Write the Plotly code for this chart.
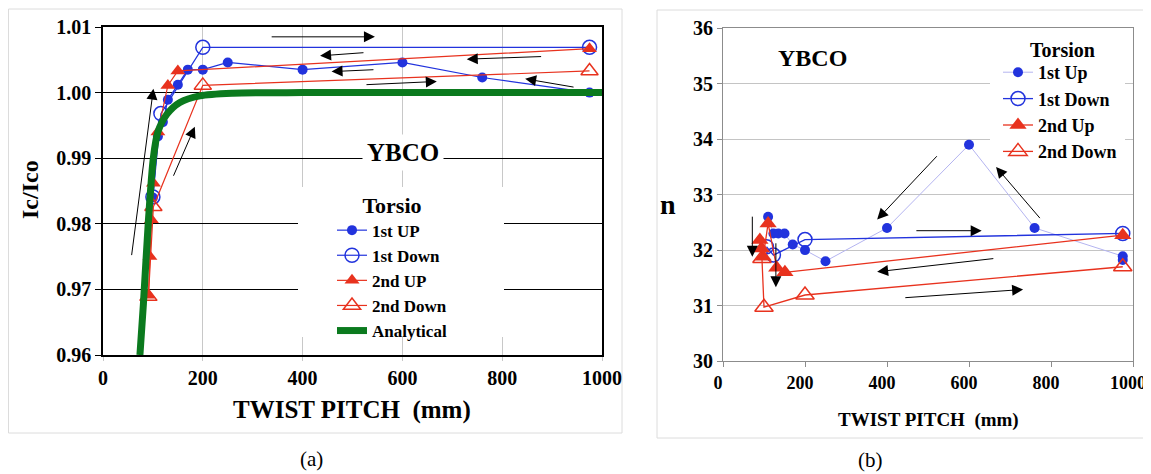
import plotly.graph_objects as go

# page body has an 8px default margin: size the figure so it ends at the window edge
OFF = 8
W, H = 1151 - OFF, 474 - OFF

# ---------------- data: panel (a) Ic/Ico ----------------
a_1up_x = [975, 760, 600, 400, 250, 200, 170, 150, 130, 120, 110, 100]
a_1up_y = [1.0000, 1.0023, 1.0046, 1.0035, 1.0046, 1.0035, 1.0035, 1.0012, 0.9989, 0.9955, 0.9933, 0.9840]
a_1dn_x = [100, 116, 200, 975]
a_1dn_y = [0.9841, 0.9968, 1.0069, 1.0069]
a_2up_x = [975, 150, 130, 110, 101, 97, 94, 91]
a_2up_y = [1.0067, 1.0033, 1.0011, 0.9940, 0.9862, 0.9806, 0.9750, 0.9691]
a_2dn_x = [91, 101, 200, 975]
a_2dn_y = [0.9689, 0.9826, 1.0011, 1.0033]
a_ana_x = [74, 81, 91, 101, 110, 128, 154, 194, 260, 400, 600, 800, 1000]
a_ana_y = [0.9600, 0.9678, 0.9805, 0.9901, 0.9940, 0.9967, 0.9985, 0.9995, 0.9999, 1.0000, 1.0000, 1.0000, 1.0000]
a_xticks = [0, 200, 400, 600, 800, 1000]
a_yticks = [0.96, 0.97, 0.98, 0.99, 1.00, 1.01]
# arrows (tail_x, tail_y, head_x, head_y)
a_arrows = [
    (335, 1.0085, 545, 1.0085),
    (525, 1.0061, 435, 1.0056),
    (881, 1.0055, 729, 1.0051),
    (545, 1.0035, 458, 1.0032),
    (525, 1.0012, 669, 1.0017),
    (946, 1.0008, 846, 1.0021),
    (57, 0.9750, 101, 1.0006),
    (140, 0.9871, 184, 0.9948),
]

# ---------------- data: panel (b) n ----------------
b_1up_x = [975, 975, 760, 600, 400, 250, 200, 170, 150, 135, 123, 110]
b_1up_y = [31.82, 31.89, 32.40, 33.90, 32.40, 31.80, 32.00, 32.10, 32.30, 32.30, 32.30, 32.60]
b_1dn_x = [106, 123, 200, 975]
b_1dn_y = [32.06, 31.91, 32.19, 32.30]
b_2up_x = [975, 151, 131, 110, 98, 94, 90]
b_2up_y = [32.27, 31.60, 31.68, 32.48, 31.88, 32.03, 32.18]
b_2dn_x = [95, 100, 200, 975]
b_2dn_y = [31.85, 30.97, 31.19, 31.70]
b_xticks = [0, 200, 400, 600, 800, 1000]
b_yticks = [30, 31, 32, 33, 34, 35, 36]
b_arrows = [
    (71.5, 32.63, 71.5, 31.88),
    (129, 32.15, 129, 31.33),
    (525, 33.72, 376, 32.55),
    (776, 32.55, 666, 33.50),
    (468, 32.35, 631, 32.35),
    (663, 31.85, 376, 31.61),
    (441, 31.14, 732, 31.29),
]

BLUE = "#2233DD"
RED = "#E8321E"
GREEN = "#0B7A1E"
LAV = "#B4B4F0"
SERIF = "Liberation Serif"


def px(x):
    return (x - OFF) / W


def py(y):
    return 1 - (y - OFF) / H


fig = go.Figure()

# panel (a)
fig.add_trace(go.Scatter(x=a_1up_x, y=a_1up_y, name="1st UP", mode="lines+markers",
                         line=dict(color=BLUE, width=1.2),
                         marker=dict(symbol="circle", size=10, color=BLUE),
                         xaxis="x", yaxis="y", legend="legend"))
fig.add_trace(go.Scatter(x=a_1dn_x, y=a_1dn_y, name="1st Down", mode="lines+markers",
                         line=dict(color=BLUE, width=1.2),
                         marker=dict(symbol="circle-open", size=14, color=BLUE, line=dict(width=1.5)),
                         xaxis="x", yaxis="y", legend="legend"))
fig.add_trace(go.Scatter(x=a_2up_x, y=a_2up_y, name="2nd UP", mode="lines+markers",
                         line=dict(color=RED, width=1.2),
                         marker=dict(symbol="triangle-up", size=13, color=RED),
                         xaxis="x", yaxis="y", legend="legend"))
fig.add_trace(go.Scatter(x=a_2dn_x, y=a_2dn_y, name="2nd Down", mode="lines+markers",
                         line=dict(color=RED, width=1.2),
                         marker=dict(symbol="triangle-up-open", size=15, color=RED, line=dict(width=1.5)),
                         xaxis="x", yaxis="y", legend="legend"))
fig.add_trace(go.Scatter(x=a_ana_x, y=a_ana_y, name="Analytical", mode="lines",
                         line=dict(color=GREEN, width=7, shape="spline", smoothing=0.8),
                         xaxis="x", yaxis="y", legend="legend"))

# panel (b)
fig.add_trace(go.Scatter(x=b_1up_x, y=b_1up_y, name="1st Up", mode="lines+markers",
                         line=dict(color=LAV, width=1),
                         marker=dict(symbol="circle", size=10, color=BLUE),
                         xaxis="x2", yaxis="y2", legend="legend2"))
fig.add_trace(go.Scatter(x=b_1dn_x, y=b_1dn_y, name="1st Down", mode="lines+markers",
                         line=dict(color=BLUE, width=1.3),
                         marker=dict(symbol="circle-open", size=14, color=BLUE, line=dict(width=1.5)),
                         xaxis="x2", yaxis="y2", legend="legend2"))
fig.add_trace(go.Scatter(x=b_2up_x, y=b_2up_y, name="2nd Up", mode="lines+markers",
                         line=dict(color=RED, width=1.3),
                         marker=dict(symbol="triangle-up", size=15, color=RED),
                         xaxis="x2", yaxis="y2", legend="legend2"))
fig.add_trace(go.Scatter(x=b_2dn_x, y=b_2dn_y, name="2nd Down", mode="lines+markers",
                         line=dict(color=RED, width=1.3),
                         marker=dict(symbol="triangle-up-open", size=16, color=RED, line=dict(width=1.5)),
                         xaxis="x2", yaxis="y2", legend="legend2"))

annotations = []
for tx, ty, hx, hy in a_arrows:
    annotations.append(dict(x=hx, y=hy, ax=tx, ay=ty, xref="x", yref="y", axref="x", ayref="y",
                            text="", showarrow=True, arrowhead=2, arrowsize=2.2, arrowwidth=1,
                            arrowcolor="black"))
for tx, ty, hx, hy in b_arrows:
    annotations.append(dict(x=hx, y=hy, ax=tx, ay=ty, xref="x2", yref="y2", axref="x2", ayref="y2",
                            text="", showarrow=True, arrowhead=2, arrowsize=2.2, arrowwidth=1,
                            arrowcolor="black"))


def txt(text, x, y, size, bold=True, angle=0, bg=None):
    d = dict(text=text, x=px(x), y=py(y), xref="paper", yref="paper", showarrow=False,
             xanchor="center", yanchor="middle", textangle=angle,
             font=dict(family=SERIF, size=size, color="black", weight="bold" if bold else "normal"))
    if bg:
        d["bgcolor"] = bg
        d["borderpad"] = 4
    return d


annotations += [
    txt("Ic/Ico", 30, 190, 24, angle=-90),
    txt("TWIST PITCH&nbsp; (mm)", 352, 410, 25),
    txt("YBCO", 403, 153, 25, bg="white"),
    txt("n", 668, 204, 28),
    txt("TWIST PITCH&nbsp; (mm)", 928, 420, 19),
    txt("YBCO", 812, 58, 24),
    txt("Torsion", 1062, 50, 20),
    txt("(a)", 311, 459, 21, bold=False),
    txt("(b)", 870, 460, 21, bold=False),
]

shapes = [
    dict(type="rect", xref="paper", yref="paper", x0=px(8.5), x1=px(622), y0=py(433), y1=py(9),
         line=dict(color="#dcdcdc", width=1), layer="below"),
    dict(type="rect", xref="paper", yref="paper", x0=px(657), x1=px(1149), y0=py(438), y1=py(10),
         line=dict(color="#dcdcdc", width=1), layer="below"),
    # white legend backgrounds covering gridlines
    dict(type="rect", xref="paper", yref="paper", x0=px(298), x1=px(504), y0=py(337), y1=py(187),
         fillcolor="white", line=dict(width=0), layer="above"),
    dict(type="rect", xref="paper", yref="paper", x0=px(990), x1=px(1125), y0=py(165), y1=py(62),
         fillcolor="white", line=dict(width=0), layer="above"),
]

tickfont = dict(family=SERIF, size=20, color="black", weight="bold")
tickfont_b = dict(family=SERIF, size=18, color="black", weight="bold")

fig.update_layout(
    width=W, height=H, autosize=False,
    margin=dict(l=0, r=0, t=0, b=0, pad=0, autoexpand=False),
    paper_bgcolor="white", plot_bgcolor="white",
    xaxis=dict(domain=[px(103), px(602)], range=[0, 1000], tickvals=a_xticks,
               showgrid=True, gridcolor="#c8c8c8", gridwidth=1, zeroline=False,
               showline=True, linecolor="black", linewidth=1.5, mirror=True, automargin=False,
               ticklabeloverflow="allow",
               ticks="outside", ticklen=4, tickcolor="#c8c8c8", tickfont=tickfont, anchor="y"),
    yaxis=dict(domain=[py(355), py(27)], range=[0.96, 1.01], tickvals=a_yticks, tickformat=".2f",
               showgrid=True, gridcolor="black", gridwidth=1, zeroline=False,
               showline=True, linecolor="black", linewidth=1.5, mirror=True, automargin=False,
               ticklabeloverflow="allow",
               ticks="outside", ticklen=6, tickcolor="black", tickfont=tickfont, anchor="x"),
    xaxis2=dict(domain=[px(723), px(1133)], range=[0, 1000], tickvals=b_xticks,
                showgrid=False, zeroline=False, automargin=False, ticklabeloverflow="allow",
                ticklabelshift=-5,
                showline=True, linecolor="#8c8c8c", linewidth=1, mirror=True,
                ticks="outside", ticklen=5, tickcolor="#8c8c8c", tickfont=tickfont_b, anchor="y2"),
    yaxis2=dict(domain=[py(361), py(28.3)], range=[30, 36], tickvals=b_yticks,
                showgrid=True, gridcolor="#c4c4c4", gridwidth=1, zeroline=False, automargin=False,
                ticklabeloverflow="allow",
                showline=True, linecolor="#8c8c8c", linewidth=1, mirror=True,
                ticks="outside", ticklen=5, tickcolor="#8c8c8c", tickfont=tickfont, anchor="x2"),
    legend=dict(x=px(332), y=py(184), xanchor="left", yanchor="top",
                bgcolor="rgba(0,0,0,0)", borderwidth=0, tracegroupgap=0,
                font=dict(family=SERIF, size=17, color="black", weight="bold"),
                title=dict(text="Torsio", side="top center",
                           font=dict(family=SERIF, size=22, color="black", weight="bold"))),
    legend2=dict(x=px(998), y=py(54), xanchor="left", yanchor="top",
                 bgcolor="rgba(0,0,0,0)", borderwidth=0, tracegroupgap=0,
                 font=dict(family=SERIF, size=18, color="black", weight="bold")),
    annotations=annotations,
    shapes=shapes,
)

fig.write_html("out.html")
